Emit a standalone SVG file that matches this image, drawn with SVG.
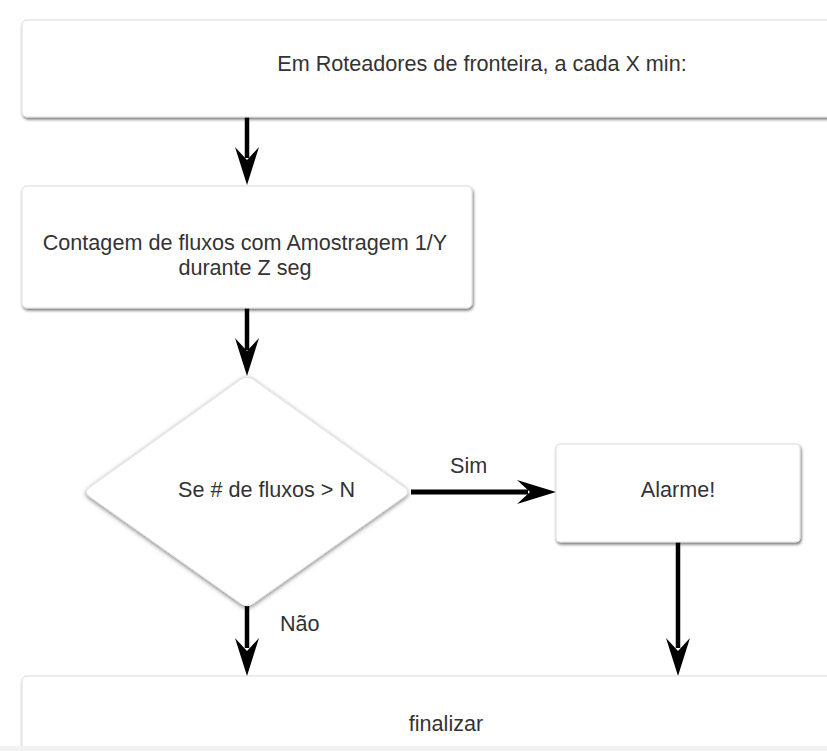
<svg xmlns="http://www.w3.org/2000/svg" width="827" height="751" viewBox="0 0 827 751">
  <defs>
    <filter id="sh" x="-10%" y="-10%" width="120%" height="130%">
      <feDropShadow dx="1" dy="2" stdDeviation="1.5" flood-color="#000" flood-opacity="0.55"/>
    </filter>
    <filter id="shd" x="-10%" y="-10%" width="120%" height="120%">
      <feDropShadow dx="0" dy="1.5" stdDeviation="2" flood-color="#000" flood-opacity="0.5"/>
    </filter>
  </defs>
  <style>
    .box { fill: #ffffff; stroke: #dcdcdc; stroke-width: 1; filter: url(#sh); }
    .dia { fill: #ffffff; stroke: #e0e0e0; stroke-width: 1; filter: url(#shd); }
    .t { font-family: "Liberation Sans", Arial, sans-serif; font-size: 21.6px; fill: #333333; }
    .c { text-anchor: middle; }
    .line { stroke: #000; stroke-width: 4.5; fill: none; }
    .head { fill: #000; stroke: none; }
  </style>
  <rect x="0" y="0" width="827" height="751" fill="#ffffff"/>

  <g id="connectors">
    <line class="line" x1="247" y1="117" x2="247" y2="158"/>
    <polygon class="head" points="247,185 235,147 247,160 259,147"/>
    <line class="line" x1="247" y1="308" x2="247" y2="350"/>
    <polygon class="head" points="247,376 235,338 247,351 259,338"/>
    <line class="line" x1="411" y1="492" x2="528" y2="492" style="stroke-width:5"/>
    <polygon class="head" points="556,492 517,480 530,492 517,504"/>
    <line class="line" x1="678" y1="542" x2="678" y2="648"/>
    <polygon class="head" points="678,676 666,638 678,651 690,638"/>
    <line class="line" x1="247" y1="606" x2="247" y2="648"/>
    <polygon class="head" points="247,676 235,638 247,651 259,638"/>
    <text class="t" x="450" y="473">Sim</text>
    <text class="t" x="280" y="631">Não</text>
  </g>

  <g id="start">
    <rect class="box" x="22" y="20" width="820" height="97" rx="5"/>
    <text class="t c" x="482" y="71">Em Roteadores de fronteira, a cada X min:</text>
  </g>

  <g id="count">
    <rect class="box" x="22" y="186" width="450" height="122" rx="5"/>
    <text class="t c" x="245" y="250">Contagem de fluxos com Amostragem 1/Y</text>
    <text class="t c" x="245" y="274.5">durante Z seg</text>
  </g>

  <g id="decision">
    <path class="dia" d="M 253.5,379.6 L 404.5,487.4 Q 411,492 404.5,496.6 L 253.5,603.4 Q 247,608 240.5,603.4 L 89.5,496.6 Q 83,492 89.5,487.4 L 240.5,379.6 Q 247,375 253.5,379.6 Z"/>
    <text class="t" x="178" y="497">Se # de fluxos &gt; N</text>
  </g>

  <g id="alarm">
    <rect class="box" x="556" y="444" width="244" height="98" rx="4"/>
    <text class="t c" x="678" y="497">Alarme!</text>
  </g>

  <g id="end">
    <rect class="box" x="22" y="676" width="820" height="100" rx="5"/>
    <text class="t c" x="446" y="731">finalizar</text>
  </g>
  <rect x="0" y="746" width="827" height="5" fill="#f2f2f2"/>
</svg>
